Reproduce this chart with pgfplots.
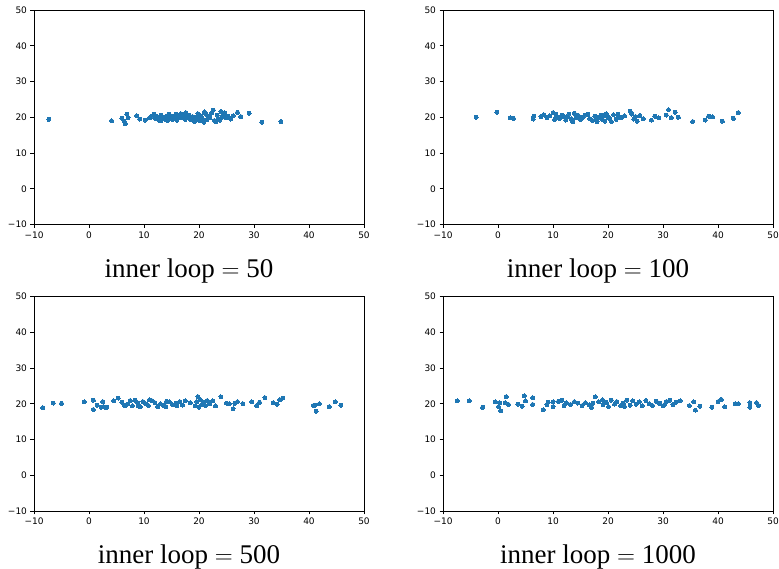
\documentclass[border=0pt]{standalone}
\usepackage{pgfplots}
\pgfplotsset{compat=1.18}
\usepackage{fontspec}
\setmainfont{Liberation Serif}
\newfontfamily\dejavu{DejaVu Sans}
\definecolor{mplblue}{HTML}{1F77B4}
\pgfplotsset{
  panel/.style={
    scale only axis, width=330pt, height=214.5pt, anchor=south west,
    xmin=-10, xmax=50, ymin=-10, ymax=50,
    xtick={-10,0,10,20,30,40,50}, ytick={-10,0,10,20,30,40,50},
    xticklabels={−10,0,10,20,30,40,50}, yticklabels={−10,0,10,20,30,40,50},
    tick label style={font=\dejavu\fontsize{9}{10}\selectfont},
    tick align=outside, xtick pos=bottom, ytick pos=left,
    major tick length=3.5pt, axis line style={line width=0.8pt}, every tick/.style={black, line width=0.8pt},
    clip=false,
    xlabel style={at={(axis description cs:0.5,-0.215)}, anchor=center, xshift=-10pt, font=\fontsize{27}{30}\selectfont},
  },
  pts/.style={only marks, mark=*, mark size=2pt, color=mplblue, mark options={draw=mplblue, fill=mplblue, line width=0pt}},
}
\begin{document}
\begin{tikzpicture}
\useasboundingbox (0,0) rectangle (779pt,569pt);
\begin{axis}[panel, at={(34pt,344.5pt)}, xlabel={inner loop $=$ 50}]
\addplot[pts] coordinates {
(-7.3,19.4) (4.1,19.0) (6.0,19.7) (6.4,18.9) (6.6,18.2) (6.9,20.8) (7.1,19.9) (8.7,20.4) (9.2,19.5) (10.2,19.2)
(11.0,19.8)(11.4,20.3)(11.8,20.9)(12.1,19.6)(12.5,20.1)(12.8,19.3)(13.1,20.6)(13.4,19.9)(13.7,19.5)(14.0,20.2)(14.3,19.1)(14.6,19.7)(14.9,20.4)(15.2,19.4)(15.5,20.0)(15.8,20.8)(16.1,19.6)(16.4,20.3)(16.7,21.0)(17.0,19.8)(17.3,20.5)(17.6,21.3)(17.9,19.9)(18.2,20.6)(18.5,19.3)(18.8,20.2)
(19.1,19.5)(19.2,18.8)(19.5,20.1)(19.8,21.0)(20.1,19.0)(20.3,20.4)(20.6,19.7)(20.9,18.6)(21.2,20.9)(21.4,19.3)(21.7,20.2)(22.0,19.8)(22.3,21.2)(22.6,22.0)(22.8,19.1)(23.1,18.8)(23.3,20.6)(23.6,19.6)(24.0,21.6)(24.1,20.0)(24.4,20.5)(24.7,21.2)(25.0,19.8)(25.3,20.3)(25.8,19.5)(26.2,20.4)(27.0,21.4)(27.6,20.2)(29.1,21.1)(31.4,18.6)(34.9,18.8)
(16.0,19.2)(13.0,19.0)(22.0,20.5)(12.0,20.5)(17.5,19.4)(21.0,21.5)(14.5,20.9)(19.6,19.3)(23.8,19.2)(20.0,20.0)
};
\end{axis}
\begin{axis}[panel, at={(443pt,344.5pt)}, xlabel={inner loop $=$ 100}]
\addplot[pts] coordinates {
(-4.0,20.0)(-0.2,21.4)(2.2,19.8)(2.8,19.7)(6.4,19.5)(6.5,20.3)(7.8,20.2)(8.3,20.7)(8.9,19.9)(9.4,20.4)(10.0,21.3)(10.3,19.4)(10.8,20.1)(11.2,19.7)(11.6,20.6)(12.0,20.2)(12.3,19.2)(12.9,20.9)(13.3,19.6)(13.6,18.8)(13.9,21.1)(14.2,19.8)(14.6,20.5)(15.0,19.3)(15.5,20.0)(16.3,20.8)(16.7,19.6)(17.2,19.1)(17.6,20.3)(18.0,18.7)(18.3,19.9)(18.7,20.6)(19.0,19.4)(19.4,18.9)(19.7,21.0)(20.0,20.2)(20.3,19.6)(20.6,18.8)(21.0,20.7)(21.5,19.4)(22.0,20.1)(22.4,19.8)(23.0,20.4)(24.0,21.7)(24.3,20.9)(24.7,19.5)(25.0,20.2)(25.3,18.9)(25.8,20.5)(26.4,19.6)(27.9,19.2)(28.5,20.3)(29.2,19.8)(30.6,20.6)(31.0,22.1)(31.5,19.9)(32.2,21.4)(32.8,20.0)(35.4,18.8)(37.7,19.2)(38.3,20.3)(39.0,20.1)(40.8,18.9)(42.8,19.7)(43.7,21.3)
(15.8,20.6)(12.6,20.0)(19.2,20.4)(21.8,20.8)(17.9,20.0)(10.5,20.8)
};
\end{axis}
\begin{axis}[panel, at={(34pt,58pt)}, xlabel={inner loop $=$ 500}]
\addplot[pts] coordinates {
(-8.4,18.9)(-6.5,20.2)(-5.0,20.1)(-0.85,20.5)(0.8,21.0)(0.8,18.4)(1.5,19.6)(2.2,19.0)(2.5,20.6)(3.2,19.0)(4.5,20.8)(5.3,21.6)(6.0,20.4)(6.5,19.5)(7.0,19.9)(7.5,20.9)(7.9,19.4)(8.4,21.0)(8.9,20.2)(9.3,19.1)(9.8,20.6)(10.3,20.0)(10.8,19.5)(11.4,20.9)(12.0,20.3)(12.5,19.2)(13.0,20.0)(13.5,19.6)(14.1,20.7)(14.6,20.5)(15.2,19.7)(15.8,20.2)(16.5,20.6)(17.0,19.6)(17.5,20.8)(18.4,20.3)(19.3,19.4)(19.6,20.6)(19.8,22.0)(20.0,19.0)(20.2,21.2)(20.5,19.8)(20.8,20.4)(21.2,19.5)(22.0,20.0)(22.5,20.8)(23.0,19.4)(24.0,21.9)(25.0,20.2)(25.5,20.0)(26.2,18.6)(26.5,20.1)(27.0,20.6)(28.0,20.0)(29.6,20.5)(30.5,19.5)(31.0,20.4)(32.0,21.7)(33.5,20.3)(34.2,19.9)(34.7,21.1)(35.2,21.6)(40.8,19.5)(41.1,19.6)(41.3,17.9)(41.9,20.0)(43.7,19.2)(44.8,20.5)(45.8,19.6)
(14.0,19.2)(11.0,21.1)(21.5,20.9)(16.0,19.4)(9.0,19.4)(3.0,18.9)(2.6,19.2)
};
\end{axis}
\begin{axis}[panel, at={(443pt,58pt)}, xlabel={inner loop $=$ 1000}]
\addplot[pts] coordinates {
(-7.4,20.8)(-5.2,20.8)(-2.8,19.0)(-0.5,20.5)(0.3,20.3)(0.5,18.0)(0.1,19.2)(1.5,22.0)(1.3,20.3)(1.9,19.8)(3.6,19.9)(4.4,19.3)(4.8,22.2)(5.0,20.8)(6.3,21.7)(6.3,19.8)(8.2,18.3)(9.1,20.4)(10.0,20.5)(10.0,19.2)(11.0,20.7)(11.6,21.0)(12.4,20.3)(13.2,19.8)(13.9,20.6)(14.5,20.2)(15.3,19.5)(15.9,20.3)(16.6,19.7)(17.2,20.1)(17.7,21.9)(18.3,20.5)(19.1,19.8)(19.7,20.4)(20.1,19.2)(20.6,21.0)(21.2,19.9)(21.6,20.6)(22.3,19.4)(22.8,20.2)(23.4,21.0)(24.0,19.6)(24.5,20.8)(25.1,19.9)(25.7,20.5)(26.2,19.4)(26.9,20.9)(27.5,20.0)(28.1,19.5)(28.8,20.7)(29.4,20.1)(30.0,19.4)(30.6,20.6)(31.2,21.0)(31.8,19.8)(32.4,20.4)(33.1,20.8)(34.8,19.5)(35.6,20.5)(35.9,18.2)(36.7,19.3)(38.9,19.0)(40.0,20.6)(40.6,21.2)(41.2,19.1)(43.1,20.0)(43.7,20.0)(45.8,20.3)(45.8,19.0)(47.0,20.3)(47.4,19.5)
(8.9,19.7)(12.0,19.5)(17.0,19.0)(23.0,19.2)(30.3,19.8)(19.0,21.1)
};
\end{axis}
\end{tikzpicture}
\end{document}
